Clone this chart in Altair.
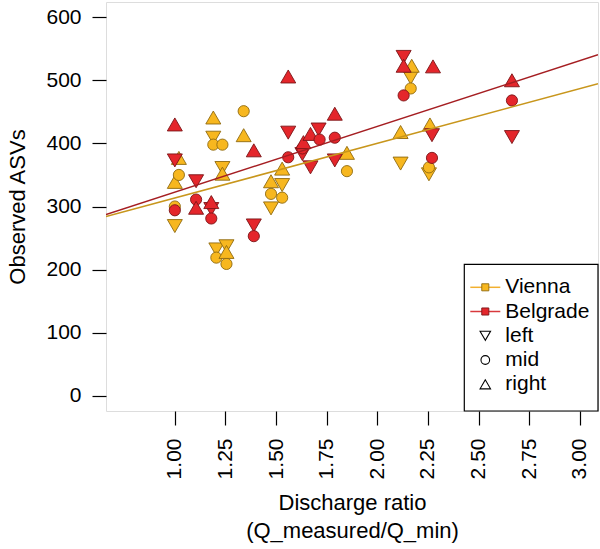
import altair as alt
import pandas as pd

# ---------------- data ----------------
vienna_ratio = [1.00, 1.00, 1.00, 1.02, 1.02, 1.19, 1.19, 1.19, 1.235, 1.235, 1.235,
                1.205, 1.205, 1.255, 1.255, 1.255, 1.34, 1.34, 1.475, 1.475, 1.475,
                1.53, 1.53, 1.53, 1.85, 1.85, 2.115, 2.115, 2.165, 2.165, 2.17,
                2.255, 2.255, 2.26]
vienna_pos = ["left", "mid", "right", "mid", "right", "left", "mid", "right", "left", "mid", "right",
              "left", "mid", "left", "mid", "right", "mid", "right", "left", "mid", "right",
              "left", "mid", "right", "mid", "right", "left", "right", "left", "mid", "right",
              "left", "mid", "right"]
vienna_asv = [269, 300, 339, 350, 377, 409, 398, 441, 361, 398, 352,
              232, 219, 237, 209, 228, 451, 413, 297, 320, 340,
              334, 314, 360, 356, 385, 368, 418, 504, 487, 523,
              351, 362, 430]

belgrade_ratio = [1.00, 1.00, 1.00, 1.105, 1.105, 1.105, 1.18, 1.18, 1.18, 1.39, 1.39, 1.39,
                  1.56, 1.56, 1.56, 1.63, 1.63, 1.635, 1.67, 1.67, 1.71, 1.715,
                  1.79, 1.79, 1.79, 2.13, 2.13, 2.13, 2.27, 2.27, 2.275, 2.665, 2.665, 2.665]
belgrade_pos = ["left", "mid", "right", "left", "mid", "right", "left", "mid", "right", "left", "mid", "right",
                "left", "mid", "right", "left", "mid", "right", "left", "right", "left", "mid",
                "left", "mid", "right", "left", "mid", "right", "left", "mid", "right", "left", "mid", "right"]
belgrade_asv = [373, 294, 430, 340, 311, 298, 296, 281, 307, 270, 253, 389,
                417, 378, 506, 383, 392, 402, 362, 415, 422, 406,
                373, 409, 447, 537, 476, 523, 413, 377, 522, 410, 468, 500]

# fitted lines (intercept, slope)
cities = ["Vienna", "Belgrade"]
intercepts = [226.7, 218.5]
slopes = [86.7, 104.2]

positions = ["left", "mid", "right"]
legend_labels = ["Vienna", "Belgrade", "left", "mid", "right"]

x_ticks = [1.0, 1.25, 1.5, 1.75, 2.0, 2.25, 2.5, 2.75, 3.0]
y_ticks = [0, 100, 200, 300, 400, 500, 600]
x_domain = [0.66, 3.09]
y_domain = [-24, 624]

# ---------------- styles ----------------
FONT = "Liberation Sans"
FS = 21
TFS = 22
fill_colors = ["#F7B71F", "#E4262B"]
edge_colors = ["#8E6A10", "#7A1416"]
line_colors = ["#C8961C", "#A51E22"]
legend_line_colors = ["#F2B030", "#D8393C"]

pts = pd.concat([
    pd.DataFrame({"city": "Vienna", "ratio": vienna_ratio, "pos": vienna_pos, "asv": vienna_asv}),
    pd.DataFrame({"city": "Belgrade", "ratio": belgrade_ratio, "pos": belgrade_pos, "asv": belgrade_asv}),
], ignore_index=True)
pts["order"] = range(len(pts))

line_rows = []
for c, a, b in zip(cities, intercepts, slopes):
    for xv in x_domain:
        line_rows.append({"city": c, "ratio": xv, "asv": a + b * xv})
lines = pd.DataFrame(line_rows)

W, H = 492, 409

x_enc = alt.X("ratio:Q",
              scale=alt.Scale(domain=x_domain, nice=False, zero=False),
              axis=alt.Axis(values=x_ticks, format=".2f", labelAngle=270,
                            labelAlign="right", labelBaseline="middle",
                            tickSize=14, tickWidth=1.2, tickColor="black",
                            labelPadding=13, labelFontSize=FS, labelFont=FONT,
                            labelColor="black", domain=False, grid=False,
                            title=["Discharge ratio", "(Q_measured/Q_min)"],
                            titleFont=FONT, titleFontSize=TFS, titleFontWeight="normal",
                            titleColor="black", titleX=W / 2, titleY=98,
                            titleAlign="center", titleBaseline="alphabetic",
                            titleLineHeight=28, labelOverlap=False))
y_enc = alt.Y("asv:Q",
              scale=alt.Scale(domain=y_domain, nice=False, zero=False),
              axis=alt.Axis(values=y_ticks, labelAngle=0,
                            tickSize=14, tickWidth=1.2, tickColor="black",
                            labelPadding=11, labelFontSize=FS, labelFont=FONT,
                            labelColor="black", domain=False, grid=False,
                            title="Observed ASVs", titleFont=FONT, titleFontSize=TFS,
                            titleFontWeight="normal", titleColor="black",
                            titleAngle=270, titleX=-82, titleY=H / 2,
                            titleAlign="center", titleBaseline="alphabetic"))

points = alt.Chart(pts).mark_point(filled=True, opacity=1, strokeWidth=0.9).encode(
    x=x_enc, y=y_enc,
    fill=alt.Fill("city:N", scale=alt.Scale(domain=cities, range=fill_colors), legend=None),
    stroke=alt.Stroke("city:N", scale=alt.Scale(domain=cities, range=edge_colors), legend=None),
    shape=alt.Shape("pos:N", scale=alt.Scale(domain=positions,
                    range=["triangle-down", "circle", "triangle-up"]), legend=None),
    size=alt.Size("pos:N", scale=alt.Scale(type="ordinal", domain=positions,
                                           range=[225, 125, 225]), legend=None),
    order=alt.Order("order:Q"),
)

reg = alt.Chart(lines).mark_line(strokeWidth=1.5, clip=True).encode(
    x="ratio:Q", y="asv:Q", detail="city:N",
    color=alt.Color("city:N", scale=alt.Scale(domain=cities, range=line_colors), legend=None),
)

# ---------------- legend (drawn by hand, R style) ----------------
one = alt.Data(values=[{"k": 1}])
box = alt.Chart(one).mark_rect(fill="white", stroke="black", strokeWidth=1.2).encode(
    x=alt.value(358.3), x2=alt.value(W), y=alt.value(262.3), y2=alt.value(H))

row_y = [285.3, 309.5, 333.8, 358.0, 382.3]
sym_x, text_x = 379.3, 399.3
leg_layers = [box]
for i, lab in enumerate(legend_labels):
    leg_layers.append(alt.Chart(one).mark_text(align="left", baseline="middle", font=FONT,
                                               fontSize=FS, color="black").encode(
        x=alt.value(text_x), y=alt.value(row_y[i]), text=alt.value(lab)))
for i in range(2):
    leg_layers.append(alt.Chart(one).mark_rule(color=legend_line_colors[i], strokeWidth=1.5).encode(
        x=alt.value(sym_x - 15), x2=alt.value(sym_x + 15), y=alt.value(row_y[i])))
    leg_layers.append(alt.Chart(one).mark_point(shape="square", filled=True, opacity=1,
                                                fill=fill_colors[i], stroke=edge_colors[i],
                                                strokeWidth=0.9, size=50).encode(
        x=alt.value(sym_x), y=alt.value(row_y[i])))
for i, shp, sz in zip([2, 3, 4], ["triangle-down", "circle", "triangle-up"], [110, 75, 110]):
    leg_layers.append(alt.Chart(one).mark_point(shape=shp, filled=False, opacity=1,
                                                color="black", strokeWidth=1.1, size=sz).encode(
        x=alt.value(sym_x), y=alt.value(row_y[i])))

chart = alt.layer(points, reg, *leg_layers).properties(
    width=W, height=H,
    autosize=alt.AutoSizeParams(type="none"),
    padding={"left": 106, "top": 2, "right": 2, "bottom": 138},
).configure_view(stroke="black", strokeWidth=1.2).configure(background="white")

chart.save("out.html", embed_options={"renderer": "svg", "actions": False})
